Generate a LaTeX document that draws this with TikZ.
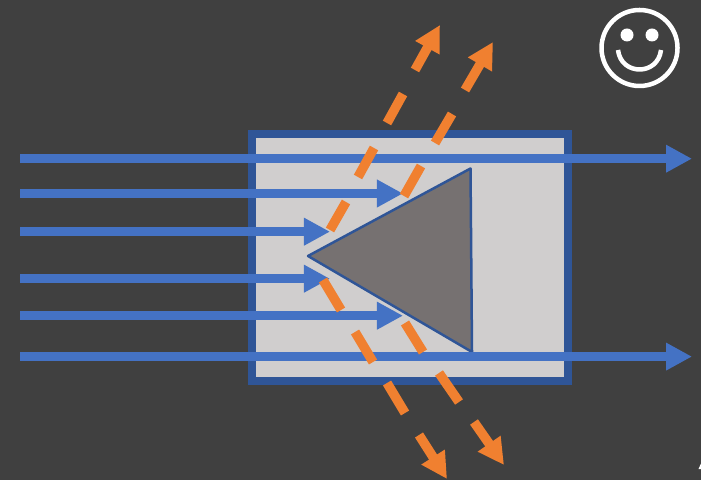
\documentclass[tikz,border=0pt]{standalone}
\usepackage{xcolor}
\definecolor{slidegrey}{RGB}{64,64,64}
\definecolor{boxgrey}{RGB}{208,206,206}
\definecolor{prismgrey}{RGB}{118,113,113}
\definecolor{darkblue}{RGB}{47,85,151}
\definecolor{rayblue}{RGB}{68,114,196}
\definecolor{rayorange}{RGB}{240,128,48}
\usetikzlibrary{arrows.meta}
\tikzset{
  blueray/.style={rayblue, line width=0.09cm, -{Triangle[length=0.26cm,width=0.26cm]}},
  orangedash/.style={rayorange, line width=0.095cm},
  orangeray/.style={orangedash, -{Triangle[length=0.26cm,width=0.26cm]}},
  smileline/.style={white, line width=0.045cm}
}

\begin{document}
\begin{tikzpicture}[x=0.01cm, y=-0.01cm]
  \fill[slidegrey] (0,0) rectangle (701,480);
  \useasboundingbox (0,0) rectangle (701,480);
  % box and prism
  \draw[darkblue, fill=boxgrey, line width=0.08cm] (252,134) rectangle (568,381);
  \draw[darkblue, fill=prismgrey, line width=0.025cm, line join=round] (308,256) -- (470.5,168.5) -- (472,352) -- cycle;
  % incoming rays
  \foreach \ypos/\xend in {158.7/692, 193.5/403, 231.7/330, 278.7/330, 315.7/403, 356.6/692}
    \draw[blueray] (20,\ypos) -- (\xend,\ypos);
  % reflected rays
  \foreach \xa/\ya/\xb/\yb in {330/230/346/202, 358/177/374/148, 387/123/403/94,
                               404/196/421/166, 435/143/452/114,
                               323/280/341/310, 355/332/373/362, 387/383/405/413,
                               405/323/423/352, 439/373/459/402}
    \draw[orangedash] (\xa,\ya) -- (\xb,\yb);
  \draw[orangeray] (415,70) -- (440,25);
  \draw[orangeray] (465,90) -- (493,42);
  \draw[orangeray] (419,435) -- (447,479);
  \draw[orangeray] (474,422) -- (504,465);
  % smiley
  \draw[smileline] (639.5,48) circle (38);
  \fill[white] (627,35) circle (6.5);
  \fill[white] (652,35) circle (6.5);
  \draw[smileline] (618,50) .. controls (621,76) and (658,76) .. (661,50);
  % cut off glyph in the corner
  \fill[white] (698.5,469) -- (701,463.5) -- (701,469) -- cycle;
\end{tikzpicture}
\end{document}
